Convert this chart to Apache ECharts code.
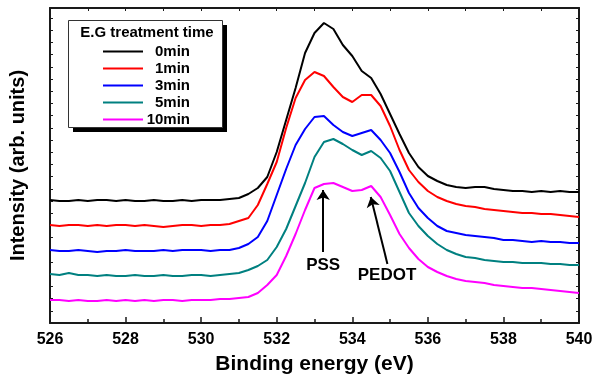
<!DOCTYPE html>
<html>
<head>
<meta charset="utf-8">
<script src="https://cdn.jsdelivr.net/npm/echarts@6/dist/echarts.min.js"></script>
<style>
  html, body { margin: 0; padding: 0; background: #fff; }
  #chart { width: 594px; height: 375px; }
</style>
</head>
<body>
<div id="chart"></div>
<script>
// binding energy (eV), shared by every curve
const energy = [526, 526.25, 526.5, 526.75, 527, 527.25, 527.5, 527.75, 528, 528.25, 528.5, 528.75,
  529, 529.25, 529.5, 529.75, 530, 530.25, 530.5, 530.75, 531, 531.25, 531.5, 531.75,
  532, 532.25, 532.5, 532.75, 533, 533.25, 533.5, 533.75, 534, 534.25, 534.5, 534.75,
  535, 535.25, 535.5, 535.75, 536, 536.25, 536.5, 536.75, 537, 537.25, 537.5, 537.75,
  538, 538.25, 538.5, 538.75, 539, 539.25, 539.5, 539.75, 540];

// intensity, arbitrary units (curves are offset as in the figure)
const min0 = [123, 122, 122, 123, 122, 123, 123, 122, 123, 122, 122, 123, 122, 122, 123, 122, 123, 123, 123, 124,
  125, 129, 135, 146, 171, 203, 235, 270, 290, 300, 294, 278, 267, 252, 245, 229, 209, 189, 170, 156,
  147, 142, 138, 136, 135, 136, 136, 134, 133, 132, 132, 131, 132, 131, 132, 131, 131];
const min1 = [98, 97, 98, 98, 97, 98, 97, 98, 98, 97, 98, 97, 96, 97, 98, 98, 97, 98, 98, 99,
  102, 105, 118, 139, 161, 195, 225, 243, 251, 247, 236, 226, 221, 228, 228, 217, 197, 173, 153, 141,
  132, 126, 122, 119, 117, 116, 114, 113, 112, 111, 110, 110, 109, 109, 108, 107, 106];
const min3 = [73, 72, 72, 73, 72, 71, 72, 72, 73, 72, 72, 72, 73, 72, 73, 73, 73, 72, 73, 73,
  75, 79, 86, 102, 128, 154, 178, 194, 206, 207, 198, 191, 187, 190, 193, 183, 170, 151, 130, 115,
  105, 97, 92, 90, 88, 87, 86, 85, 83, 83, 82, 81, 82, 81, 81, 80, 80];
const min5 = [49, 48, 50, 48, 48, 47, 48, 47, 47, 48, 47, 47, 48, 47, 47, 48, 48, 47, 48, 49,
  50, 53, 57, 63, 76, 94, 117, 140, 166, 181, 184, 179, 173, 168, 172, 165, 152, 131, 110, 97,
  87, 79, 73, 69, 66, 65, 63, 62, 61, 61, 60, 60, 60, 59, 59, 58, 58];
const min10 = [23, 23, 22, 23, 22, 22, 23, 22, 23, 22, 23, 22, 23, 23, 22, 23, 23, 23, 24, 24,
  25, 26, 30, 38, 48, 67, 89, 113, 135, 139, 140, 136, 132, 133, 137, 126, 108, 89, 75, 64,
  56, 51, 47, 44, 42, 41, 40, 38, 37, 36, 35, 35, 34, 33, 32, 31, 30];

const seriesNames = ['0min', '1min', '3min', '5min', '10min'];
const seriesColors = ['#000000', '#ff0000', '#0000ff', '#008080', '#ff00ff'];
const seriesValues = [min0, min1, min3, min5, min10];

// peak annotations: [label, label position, arrow tail, arrow tip]
const annotations = [
  ['PSS', [533.23, 58], [533.23, 71], [533.23, 133]],
  ['PEDOT', [534.92, 48], [534.93, 59], [534.49, 126]]
];

const FONT = '"Liberation Sans", Arial, sans-serif';
const AXIS_COLOR = '#1a1a1a';

const chart = echarts.init(document.getElementById('chart'));

const series = seriesNames.map((name, k) => ({
  name: name,
  type: 'line',
  data: energy.map((e, i) => [e, seriesValues[k][i]]),
  symbol: 'none',
  silent: true,
  lineStyle: { color: seriesColors[k], width: 2 },
  itemStyle: { color: seriesColors[k] },
  z: 2
}));

// arrows and their labels hang off the last series
series[series.length - 1].markLine = {
  silent: true,
  symbol: ['none', 'arrow'],
  symbolSize: 10,
  label: { show: false },
  lineStyle: { color: '#000', width: 2, type: 'solid' },
  data: annotations.map(a => [{ coord: a[2] }, { coord: a[3] }])
};
series[series.length - 1].markPoint = {
  silent: true,
  symbol: 'circle',
  symbolSize: 1,
  itemStyle: { color: 'rgba(0,0,0,0)' },
  label: {
    show: true,
    position: 'inside',
    color: '#000',
    fontFamily: FONT,
    fontWeight: 'bold',
    fontSize: 17,
    formatter: p => p.name
  },
  data: annotations.map(a => ({ name: a[0], coord: a[1] }))
};

const frameAxis = {
  axisLine: { show: true, onZero: false, lineStyle: { color: AXIS_COLOR, width: 2 } },
  splitLine: { show: false },
  axisLabel: { show: false }
};

chart.setOption({
  animation: false,
  grid: { left: 50, right: 15, top: 8, bottom: 52, containLabel: false, outerBoundsMode: 'none' },
  xAxis: [
    Object.assign({}, frameAxis, {
      type: 'value',
      position: 'bottom',
      min: 526,
      max: 540,
      interval: 2,
      name: 'Binding energy (eV)',
      nameLocation: 'middle',
      nameGap: 31,
      nameTextStyle: { fontFamily: FONT, fontWeight: 'bold', fontSize: 21, color: '#000' },
      axisTick: { show: true, inside: true, length: 6, lineStyle: { color: AXIS_COLOR, width: 1.5 } },
      minorTick: { show: true, splitNumber: 2, length: 4, lineStyle: { color: AXIS_COLOR, width: 1.5 } },
      axisLabel: { show: true, margin: 9, fontFamily: FONT, fontWeight: 'bold', fontSize: 16, color: '#000' }
    }),
    Object.assign({}, frameAxis, {
      type: 'value',
      position: 'top',
      min: 526,
      max: 540,
      interval: 1,
      axisTick: { show: true, inside: true, length: 3, lineStyle: { color: AXIS_COLOR, width: 1 } }
    })
  ],
  yAxis: [
    Object.assign({}, frameAxis, {
      type: 'value',
      position: 'left',
      min: 0,
      max: 315,
      interval: 12.2,
      name: 'Intensity (arb. units)',
      nameLocation: 'middle',
      nameGap: 22,
      nameTextStyle: { fontFamily: FONT, fontWeight: 'bold', fontSize: 20, color: '#000' },
      axisTick: { show: true, inside: true, length: 3, lineStyle: { color: AXIS_COLOR, width: 1 } }
    }),
    Object.assign({}, frameAxis, {
      type: 'value',
      position: 'right',
      min: 0,
      max: 315,
      interval: 12.2,
      axisTick: { show: true, inside: true, length: 3, lineStyle: { color: AXIS_COLOR, width: 1 } }
    })
  ],
  legend: {
    data: seriesNames,
    orient: 'vertical',
    left: 103,
    top: 44,
    padding: 0,
    icon: 'rect',
    itemWidth: 40,
    itemHeight: 2,
    itemGap: 2,
    selectedMode: false,
    z: 20,
    formatter: '{n|{name}}',
    textStyle: {
      rich: {
        n: { width: 42, align: 'right', fontFamily: FONT, fontWeight: 'bold', fontSize: 15, color: '#000', lineHeight: 17 }
      }
    }
  },
  graphic: [
    { type: 'rect', z: 10, shape: { x: 73, y: 25, width: 154, height: 107 }, style: { fill: '#000' } },
    { type: 'rect', z: 11, shape: { x: 68.5, y: 20.5, width: 154, height: 107 }, style: { fill: '#fff', stroke: '#333', lineWidth: 1 } },
    {
      type: 'text', z: 12,
      style: { text: 'E.G treatment time', x: 147, y: 33, align: 'center', verticalAlign: 'middle', font: 'bold 15px ' + FONT, fill: '#000' }
    }
  ],
  series: series
});
</script>
</body>
</html>
